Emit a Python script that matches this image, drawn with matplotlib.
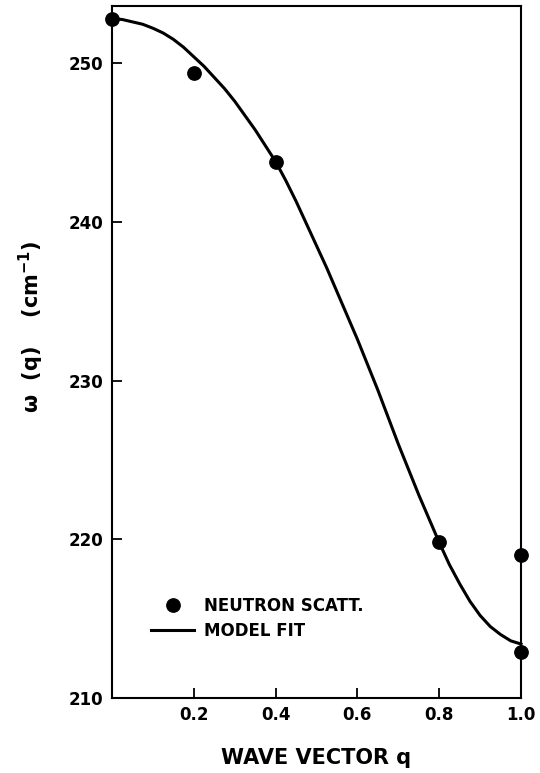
import matplotlib.pyplot as plt

plt.rcParams['font.family'] = ['DejaVu Sans']
plt.rcParams['font.weight'] = 'bold'
plt.rcParams['mathtext.default'] = 'bf'

# measured phonon frequencies
q_data = [0.0, 0.2, 0.4, 0.8, 1.0, 1.0]
w_data = [252.8, 249.4, 243.8, 219.8, 219.0, 212.9]

# model fit curve
q_fit = [0.000, 0.025, 0.050, 0.075, 0.100, 0.125, 0.150, 0.175, 0.200, 0.225,
         0.250, 0.275, 0.300, 0.325, 0.350, 0.375, 0.400, 0.425, 0.450, 0.475,
         0.500, 0.525, 0.550, 0.575, 0.600, 0.625, 0.650, 0.675, 0.700, 0.725,
         0.750, 0.775, 0.800, 0.825, 0.850, 0.875, 0.900, 0.925, 0.950, 0.975, 1.000]
w_fit = [252.8, 252.75, 252.6, 252.45, 252.2, 251.9, 251.5, 251.0, 250.4, 249.8,
         249.1, 248.4, 247.6, 246.7, 245.8, 244.8, 243.8, 242.6, 241.3, 239.9,
         238.5, 237.1, 235.6, 234.1, 232.6, 231.0, 229.4, 227.7, 226.0, 224.4,
         222.8, 221.3, 219.8, 218.4, 217.2, 216.1, 215.2, 214.5, 214.0, 213.6, 213.4]

x_ticks = [0.2, 0.4, 0.6, 0.8, 1.0]
x_labels = ['0.2', '0.4', '0.6', '0.8', '1.0']
y_ticks = [210, 220, 230, 240, 250]

W, H = 540, 773
fig = plt.figure(figsize=(W / 100, H / 100), dpi=100)
ax = fig.add_axes([112 / W, 1 - 698 / H, (521 - 112) / W, (698 - 6) / H])

ax.plot(q_fit, w_fit, color='black', lw=2.2, label='MODEL FIT', clip_on=False)
ax.plot(q_data, w_data, 'o', color='black', ms=9.6, clip_on=False, zorder=5,
        label='NEUTRON SCATT.')

ax.set_xlim(0, 1.0)
ax.set_ylim(210, 253.6)
ax.set_xticks(x_ticks)
ax.set_xticklabels(x_labels)
ax.set_yticks(y_ticks)

for s in ax.spines.values():
    s.set_linewidth(1.5)
ax.tick_params(direction='in', length=7.5, width=1.3, labelsize=12, pad=6)

ax.set_xlabel('WAVE VECTOR q', fontsize=15, fontweight='bold', labelpad=17)
fig.text(31 / W, 1 - 327 / H, 'ω  (q)    (cm$^{-1}$)', rotation=90,
         ha='center', va='center', fontsize=15, fontweight='bold')

handles, labels = ax.get_legend_handles_labels()
ax.legend(handles[::-1], labels[::-1], loc='upper left',
          bbox_to_anchor=(151 / W, 1 - 597 / H), bbox_transform=fig.transFigure,
          frameon=False, borderpad=0, borderaxespad=0,
          handlelength=2.6, handletextpad=0.55, labelspacing=0.4,
          prop={'weight': 'bold', 'size': 12})

fig.savefig('out.png', dpi=100)
